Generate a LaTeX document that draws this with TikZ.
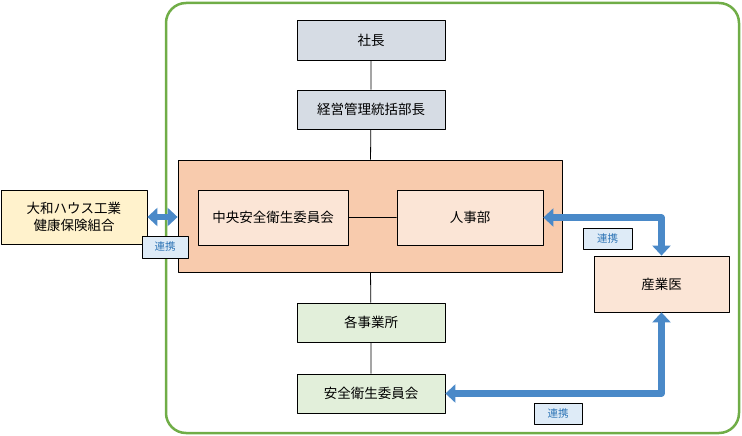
\documentclass[tikz,border=0pt]{standalone}
\usepackage{fontspec}
\newfontfamily\jp{Noto Sans CJK JP}
\usetikzlibrary{arrows.meta}
\definecolor{frame}{RGB}{112,173,71}
\definecolor{grayb}{RGB}{214,220,228}
\definecolor{salmon}{RGB}{248,203,173}
\definecolor{peach}{RGB}{251,229,214}
\definecolor{cream}{RGB}{255,242,204}
\definecolor{mint}{RGB}{226,239,218}
\definecolor{sky}{RGB}{222,235,247}
\definecolor{arr}{RGB}{74,137,200}
\definecolor{lbl}{RGB}{46,117,182}
\tikzset{
  box/.style={draw,line width=0.8pt,inner sep=0pt,align=center,font=\jp\fontsize{13.5}{17}\selectfont},
  link/.style={box,fill=sky,text=lbl,font=\jp\fontsize{10.5}{12}\selectfont},
  bigarrow/.style={draw=arr,line width=6.5pt,{Triangle[length=10pt,width=18pt]}-{Triangle[length=10pt,width=18pt]}}
}
\begin{document}
\begin{tikzpicture}[x=1pt,y=-1pt,line join=round]
  \useasboundingbox (0,0) rectangle (742,436);
  % outer frame
  \draw[frame,line width=2.5pt,rounded corners=20pt] (166,3) rectangle (739,433);
  \node[box,fill=salmon,minimum width=384,minimum height=112] (hq) at (370,216) {};
  \node[box,fill=grayb,minimum width=148,minimum height=40] (pres) at (371,40) {社長};
  \node[box,fill=grayb,minimum width=148,minimum height=39] (mgr) at (371,109.5) {経営管理統括部長};
  \node[box,fill=peach,minimum width=150,minimum height=55] (cc) at (273,217.5) {中央安全衛生委員会};
  \node[box,fill=peach,minimum width=146,minimum height=55] (hr) at (470,217.5) {人事部};
  \node[box,fill=cream,minimum width=146,minimum height=54] (kenpo) at (74,217) {大和ハウス工業\\健康保険組合};
  \node[box,fill=peach,minimum width=135,minimum height=56] (doc) at (661.5,284) {産業医};
  \node[box,fill=mint,minimum width=148,minimum height=39] (site) at (371,322.5) {各事業所};
  \node[box,fill=mint,minimum width=148,minimum height=39] (sc) at (371,393.5) {安全衛生委員会};
  % connectors
  \draw[line width=0.8pt] (pres)--(mgr) (mgr)--(hq) (cc)--(hr) (hq)--(site) (site)--(sc);
  \draw[bigarrow] (kenpo.east)--(kenpo.east-|hq.west);
  \draw[bigarrow] (hr.east) -| (doc.north);
  \draw[bigarrow] (sc.east) -| (doc.south);
  % labels
  \node[link,minimum width=46,minimum height=22] (l1) at (165,247) {連携};
  \node[link,minimum width=49,minimum height=21] (l2) at (607.5,238.5) {連携};
  \node[link,minimum width=48,minimum height=21] (l3) at (558,413.5) {連携};
\end{tikzpicture}
\end{document}
